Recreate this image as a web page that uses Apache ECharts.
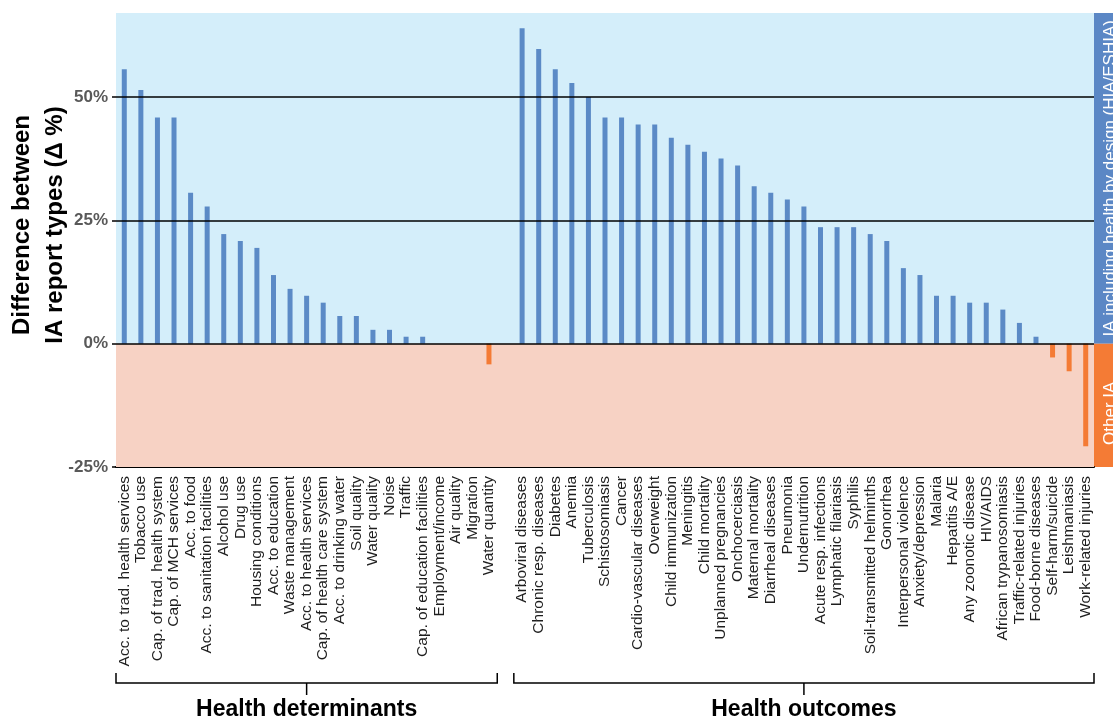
<!DOCTYPE html>
<html>
<head>
<meta charset="utf-8">
<style>
  html, body { margin: 0; padding: 0; background: #ffffff; }
  #chart { width: 1113px; height: 720px; }
</style>
<script src="https://cdn.jsdelivr.net/npm/echarts@6/dist/echarts.min.js"></script>
</head>
<body>
<div id="chart"></div>
<script>
const detLabels = ['Acc. to trad. health services','Tobacco use','Cap. of trad. health system','Cap. of MCH services','Acc. to food','Acc. to sanitation facilities','Alcohol use','Drug use','Housing conditions','Acc. to education','Waste management','Acc. to health services','Cap. of health care system','Acc. to drinking water','Soil quality','Water quality','Noise','Traffic','Cap. of education facilities','Employment/income','Air quality','Migration','Water quantity'];
const detValues = [55.6, 51.4, 45.8, 45.8, 30.6, 27.8, 22.2, 20.8, 19.4, 13.9, 11.1, 9.7, 8.3, 5.6, 5.6, 2.8, 2.8, 1.4, 1.4, 0, 0, 0, -4.2];

const outLabels = ['Arboviral diseases','Chronic resp. diseases','Diabetes','Anemia','Tuberculosis','Schistosomiasis','Cancer','Cardio-vascular diseases','Overweight','Child immunization','Meningitis','Child mortality','Unplanned pregnancies','Onchocerciasis','Maternal mortality','Diarrheal diseases','Pneumonia','Undernutrition','Acute resp. infections','Lymphatic filariasis','Syphilis','Soil-transmitted helminths','Gonorrhea','Interpersonal violence','Anxiety/depression','Malaria','Hepatitis A/E','Any zoonotic disease','HIV/AIDS','African trypanosomiasis','Traffic-related injuries','Food-borne diseases','Self-harm/suicide','Leishmaniasis','Work-related injuries'];
const outValues = [63.9, 59.7, 55.6, 52.8, 50.0, 45.8, 45.8, 44.4, 44.4, 41.7, 40.3, 38.9, 37.5, 36.1, 31.9, 30.6, 29.2, 27.8, 23.6, 23.6, 23.6, 22.2, 20.8, 15.3, 13.9, 9.7, 9.7, 8.3, 8.3, 6.9, 4.2, 1.4, -2.8, -5.6, -20.8];

const yTicks = [-25, 0, 25, 50];
const gridLineValues = [0, 25, 50];
const yMin = -25, yMax = 67;
const groupNames = ['Health determinants', 'Health outcomes'];
const bandNames = ['IA including health by design (HIA/ESHIA)', 'Other IA'];
const yTitle = 'Difference between\nIA report types (\u0394 %)';

const BLUE = '#5b8ac6', ORANGE = '#f47b35';
const categories = detLabels.concat([''], outLabels);
const values = detValues.concat([null], outValues);

const chart = echarts.init(document.getElementById('chart'), null, { renderer: 'canvas' });
const FONT = '"Liberation Sans", Arial, sans-serif';

chart.setOption({
  animation: false,
  backgroundColor: '#ffffff',
  grid: { left: 116, right: 19, top: 13, bottom: 253, containLabel: false },
  xAxis: {
    type: 'category',
    data: categories,
    boundaryGap: true,
    axisLine: { show: true, onZero: false, lineStyle: { color: '#000', width: 2 } },
    axisTick: { show: false },
    axisLabel: {
      interval: 0, rotate: 90, margin: 9,
      fontFamily: FONT, fontSize: 15.5, color: '#1e1e1e'
    },
    splitLine: { show: false }
  },
  yAxis: {
    type: 'value',
    min: yMin, max: yMax, interval: 25,
    axisLine: { show: false },
    axisTick: { show: true, customValues: yTicks, length: 4, lineStyle: { color: '#000', width: 1.5 } },
    axisLabel: {
      customValues: yTicks, margin: 8,
      fontFamily: FONT, fontSize: 17, fontWeight: 'bold', color: '#595959',
      formatter: v => v + '%'
    },
    splitLine: { show: false }
  },
  series: [
    {
      type: 'line', data: [], z: 1, silent: true,
      markArea: {
        silent: true,
        data: [
          [{ yAxis: 0, itemStyle: { color: '#d4eefa' } }, { yAxis: yMax }],
          [{ yAxis: yMin, itemStyle: { color: '#f7d2c4' } }, { yAxis: 0 }]
        ]
      }
    },
    {
      type: 'line', data: [], z: 2, silent: true,
      markLine: {
        silent: true, symbol: 'none', label: { show: false },
        lineStyle: { color: '#000', width: 1.5, type: 'solid' },
        data: gridLineValues.map(v => ({ yAxis: v }))
      }
    },
    {
      type: 'bar', z: 3, barWidth: 5,
      data: values.map(v => v == null ? null : { value: v, itemStyle: { color: v < 0 ? ORANGE : BLUE } })
    }
  ]
});

function px(i) { return chart.convertToPixel({ xAxisIndex: 0 }, i); }
function py(v) { return chart.convertToPixel({ yAxisIndex: 0 }, v); }

const step = px(1) - px(0);
const yTop = py(yMax), yZero = py(0), yBot = py(yMin);
const plotRight = px(categories.length - 1) + step / 2;

const groups = [
  [0, detLabels.length - 1],
  [detLabels.length + 1, categories.length - 1]
];
const bracketY = 683, bracketEndY = 673, bracketTickY = 695;
const graphics = [];

groups.forEach((g, k) => {
  const l = px(g[0]) - step / 2, r = px(g[1]) + step / 2, c = (l + r) / 2;
  graphics.push({
    type: 'polyline', silent: true,
    shape: { points: [[l, bracketEndY], [l, bracketY], [r, bracketY], [r, bracketEndY]] },
    style: { stroke: '#000', lineWidth: 1.5, fill: null }
  });
  graphics.push({
    type: 'line', silent: true,
    shape: { x1: c, y1: bracketY, x2: c, y2: bracketTickY },
    style: { stroke: '#000', lineWidth: 1.5 }
  });
  graphics.push({
    type: 'text', silent: true, x: c, y: 710,
    style: { text: groupNames[k], font: 'bold 23px ' + FONT, fill: '#000', textAlign: 'center', textVerticalAlign: 'middle' }
  });
});

// right-hand bands
graphics.push({ type: 'rect', silent: true, shape: { x: plotRight, y: yTop, width: 1113 - plotRight + 5, height: yZero - yTop }, style: { fill: '#5b87c5' } });
graphics.push({ type: 'rect', silent: true, shape: { x: plotRight, y: yZero, width: 1113 - plotRight + 5, height: yBot - yZero }, style: { fill: '#f47b35' } });
graphics.push({
  type: 'text', silent: true, x: 1110, y: (yTop + yZero) / 2, rotation: Math.PI / 2,
  style: { text: bandNames[0], font: '17px ' + FONT, fill: '#ffffff', textAlign: 'center', textVerticalAlign: 'middle' }
});
graphics.push({
  type: 'text', silent: true, x: 1110, y: (yZero + yBot) / 2 + 8, rotation: Math.PI / 2,
  style: { text: bandNames[1], font: '17px ' + FONT, fill: '#ffffff', textAlign: 'center', textVerticalAlign: 'middle' }
});

// y-axis title
graphics.push({
  type: 'text', silent: true, x: 39, y: 225, rotation: Math.PI / 2,
  style: { text: yTitle, font: 'bold 24px ' + FONT, lineHeight: 33, fill: '#000', textAlign: 'center', textVerticalAlign: 'middle' }
});

chart.setOption({ graphic: graphics });
</script>
</body>
</html>
